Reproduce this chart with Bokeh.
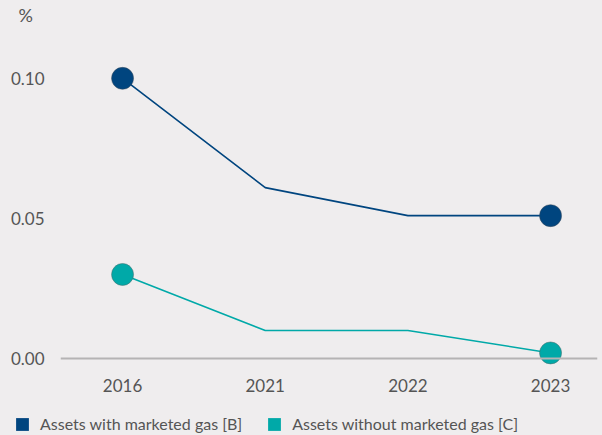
from bokeh.plotting import figure
from bokeh.layouts import column
from bokeh.models import Span, FixedTicker, Legend, LegendItem, NumeralTickFormatter, Range1d
from bokeh.embed import file_html
from bokeh.resources import INLINE

years = ["2016", "2021", "2022", "2023"]
with_gas = [0.10, 0.061, 0.051, 0.051]
without_gas = [0.030, 0.010, 0.010, 0.002]
y_ticks = [0.0, 0.05, 0.10]
series_names = ["Assets with marketed gas [B]", "Assets without marketed gas [C]"]
unit_label = "%"

BLUE = "#00457f"
TEAL = "#00a9a8"
BG = "#efedee"
TXT = "#555555"
FONT = "Lato"

xs = list(range(len(years)))

p = figure(width=600, height=395, output_backend="svg", toolbar_location=None,
           x_range=(-0.435, 3.329), y_range=(-0.00427, 0.1185),
           min_border_left=60, min_border_right=3, min_border_top=25, min_border_bottom=25)
p.background_fill_color = BG
p.border_fill_color = BG
p.outline_line_color = None
p.grid.visible = False

p.title.text = unit_label
p.title.align = "left"
p.title.offset = -42
p.title.text_font = FONT
p.title.text_font_size = "18px"
p.title.text_font_style = "normal"
p.title.text_color = TXT
p.title.standoff = 2

p.add_layout(Span(location=0, dimension="width", line_color="#b5b3b4", line_width=2))

p.line(xs, with_gas, line_color=BLUE, line_width=1.6)
p.line(xs, without_gas, line_color=TEAL, line_width=1.6)
ends = [0, len(years) - 1]
p.scatter([xs[i] for i in ends], [with_gas[i] for i in ends], size=22,
          fill_color=BLUE, line_color="#3a4a5a", line_alpha=0.5, line_width=1)
p.scatter([xs[i] for i in ends], [without_gas[i] for i in ends], size=22,
          fill_color=TEAL, line_color="#4a6a6a", line_alpha=0.5, line_width=1)

p.xaxis.ticker = FixedTicker(ticks=xs)
p.xaxis.major_label_overrides = {i: y for i, y in enumerate(years)}
p.yaxis.ticker = FixedTicker(ticks=y_ticks)
p.yaxis.formatter = NumeralTickFormatter(format="0.00")
for ax in (p.xaxis, p.yaxis):
    ax.axis_line_color = None
    ax.major_tick_line_color = None
    ax.minor_tick_line_color = None
    ax.major_label_text_font = FONT
    ax.major_label_text_font_size = "17px"
    ax.major_label_text_color = TXT
p.xaxis.major_label_standoff = 2
p.yaxis.major_label_standoff = 10

# legend-only strip below the chart
lg = figure(width=600, height=38, output_backend="svg", toolbar_location=None,
            x_axis_type=None, y_axis_type=None, x_range=Range1d(0, 1), y_range=Range1d(0, 1),
            min_border_left=0, min_border_right=0, min_border_top=0, min_border_bottom=0)
lg.background_fill_color = BG
lg.border_fill_color = BG
lg.outline_line_color = None
lg.grid.visible = False
q1 = lg.quad(left=[5], right=[6], top=[5], bottom=[4], fill_color=BLUE, line_color=None)
q2 = lg.quad(left=[5], right=[6], top=[5], bottom=[4], fill_color=TEAL, line_color=None)
legend = Legend(items=[LegendItem(label=series_names[0], renderers=[q1]),
                       LegendItem(label=series_names[1], renderers=[q2])],
                orientation="horizontal", location=(14, 0),
                label_text_font=FONT, label_text_font_size="16px", label_text_color=TXT,
                background_fill_alpha=0, border_line_color=None,
                glyph_width=16, glyph_height=16, spacing=24, padding=2, margin=0,
                label_standoff=10)
lg.add_layout(legend, "center")

layout = column(column(p), column(lg), spacing=0)
html = file_html(layout, INLINE)
html = html.replace("</head>", "<style>html,body{background:%s;}</style></head>" % BG, 1)
open("out.html", "w").write(html)
